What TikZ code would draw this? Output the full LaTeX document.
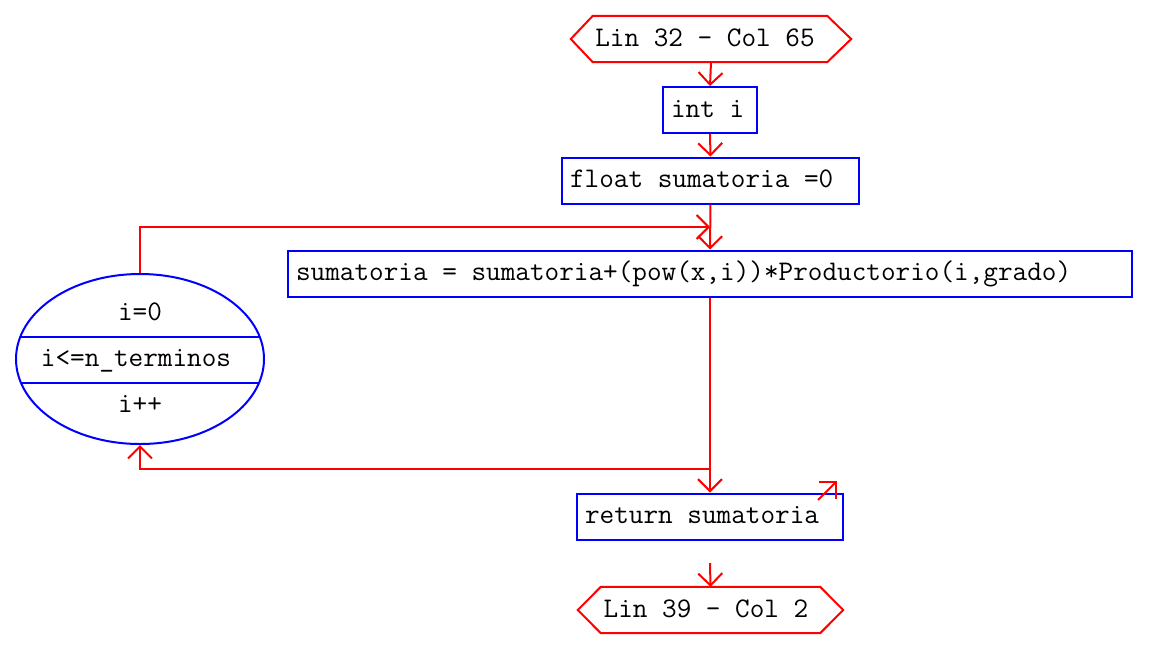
\documentclass[tikz,border=0pt]{standalone}
\usetikzlibrary{arrows.meta,shapes.geometric,calc}
\definecolor{rd}{RGB}{255,0,0}
\definecolor{bl}{RGB}{0,0,255}
\newcommand{\lbox}[2]{\makebox[#1][l]{#2}}
\begin{document}
\begin{tikzpicture}[x=1pt,y=-1pt,
  txt/.style={font=\ttfamily\fontsize{28.4}{30}\selectfont, text=black, text height=14pt, text depth=0pt},
  stmt/.style={txt, draw=bl, line width=2pt, inner xsep=8pt, inner ysep=0pt,
     minimum height=46pt, anchor=center},
  term/.style={txt, inner sep=0pt, minimum height=46pt},
  hexline/.style={draw=rd, line width=2pt},
  conn/.style={draw=rd, line width=2pt, -{Straight Barb[length=12pt,width=24pt]}}
]
\useasboundingbox (0,0) rectangle (1152,654);
% start terminal
\node[term, minimum width=280pt] (start) at (711,39) {Lin 32 - Col 65\hspace*{12pt}};
\draw[hexline] (start.west) -- ($(start.north west)+(22,0)$) -- ($(start.north east)+(-24,0)$) -- (start.east)
  -- ($(start.south east)+(-24,0)$) -- ($(start.south west)+(22,0)$) -- cycle;
% statements
\node[stmt] (inti) at (710,110) {\lbox{78pt}{int i}};
\node[stmt] (flt) at (710.5,180.5) {\lbox{281pt}{float sumatoria =0}};
\node[stmt] (sum) at (710,273.5) {\lbox{828pt}{sumatoria = sumatoria+(pow(x,i))*Productorio(i,grado)}};
\node[stmt] (ret) at (710,516.5) {\lbox{250pt}{return sumatoria}};
% end terminal
\node[term, minimum width=265pt] (stop) at (710.5,610) {Lin 39 - Col 2\hspace*{9pt}};
\draw[hexline] (stop.west) -- ($(stop.north west)+(23,0)$) -- ($(stop.north east)+(-23,0)$) -- (stop.east)
  -- ($(stop.south east)+(-23,0)$) -- ($(stop.south west)+(23,0)$) -- cycle;
% for loop ellipse
\node[ellipse, draw=bl, line width=2pt, minimum width=248pt, minimum height=170pt, inner sep=0pt] (loop) at (140,359) {};
\node[txt] (l1) at (140,313) {i=0};
\node[txt] (l2) at (136,359.5) {i<=n\symbol{95}terminos};
\node[txt] (l3) at (140,405.5) {i++};
\draw[bl, line width=2pt] (21,337) -- (259,337);
\draw[bl, line width=2pt] (21,383) -- (259,383);
% connectors
\coordinate (j) at (710,227);
\coordinate (b) at (710,469);
\coordinate (w1) at (818,500);
\coordinate (w2) at (837,481);
\coordinate (e1) at (710,563);
\draw[conn] (start.south) -- (inti.north);
\draw[conn] (inti.south) -- (flt.north);
\draw[conn] (flt.south) -- (sum.north);
\draw[conn] (loop.north) |- (j);
\draw[conn] (sum.south) -- (ret.north);
\draw[conn] (b) -| (loop.south);
\draw[conn] (w1) -- (w2);
\draw[conn] (e1) -- (stop.north);
\end{tikzpicture}
\end{document}
